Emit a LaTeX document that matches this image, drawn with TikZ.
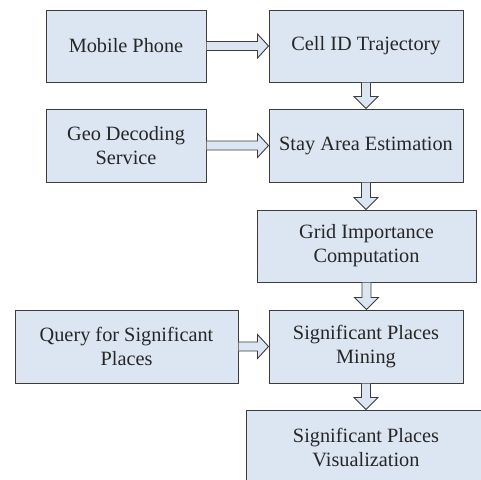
\documentclass[tikz,border=0pt]{standalone}
\usepackage{fontspec}
\setmainfont{Liberation Serif}
\usetikzlibrary{calc}
\definecolor{boxfill}{HTML}{DCE6F2}
\definecolor{boxline}{HTML}{3C3C3C}
\tikzset{
  box/.style={draw=boxline, fill=boxfill, line width=1pt, inner sep=0pt, align=center,
    font=\fontsize{20.3}{24}\selectfont, text=black!85},
  harrow/.style={draw=boxline, fill=boxfill, line width=0.9pt, line join=miter},
}
\begin{document}
\begin{tikzpicture}[x=1pt,y=-1pt]
\useasboundingbox (0,0) rectangle (481,479);
\begin{scope}
\clip (0,0) rectangle (481,479);
\node[box, minimum width=160, minimum height=72] (mp) at (126,46) {Mobile Phone};
\node[box, minimum width=194, minimum height=72] (cid) at (366,46) {Cell ID Trajectory};
\node[box, minimum width=160, minimum height=73] (geo) at (126,145.5) {Geo Decoding\\Service};
\node[box, minimum width=194, minimum height=73] (stay) at (366,145.5) {Stay Area Estimation};
\node[box, minimum width=219, minimum height=72] (grid) at (366.5,246) {Grid Importance\\Computation};
\node[box, minimum width=223, minimum height=73] (query) at (126.5,346.5) {Query for Significant\\Places};
\node[box, minimum width=194, minimum height=73] (mine) at (366,346.5) {Significant Places\\Mining};
\node[box, minimum width=240, minimum height=74] (vis) at (366,447) {Significant Places\\Visualization};
% horizontal hollow arrows
\foreach \a/\b in {mp/cid, geo/stay, query/mine}{
  \path[harrow] let \p1=(\a.east), \p2=(\b.west) in
    (\x1,\y1+4.5pt) -- (\x2-11pt,\y1+4.5pt) -- (\x2-11pt,\y1+12pt) -- (\x2,\y1)
    -- (\x2-11pt,\y1-12pt) -- (\x2-11pt,\y1-4.5pt) -- (\x1,\y1-4.5pt);
}
% vertical hollow arrows
\foreach \a/\b in {cid/stay, stay/grid, grid/mine, mine/vis}{
  \path[harrow] let \p1=(\a.south), \p2=(\b.north) in
    (\x1-4.5pt,\y1) -- (\x1-4.5pt,\y2+12pt) -- (\x1-12pt,\y2+12pt) -- (\x1,\y2)
    -- (\x1+12pt,\y2+12pt) -- (\x1+4.5pt,\y2+12pt) -- (\x1+4.5pt,\y1);
}
\end{scope}
\end{tikzpicture}
\end{document}
